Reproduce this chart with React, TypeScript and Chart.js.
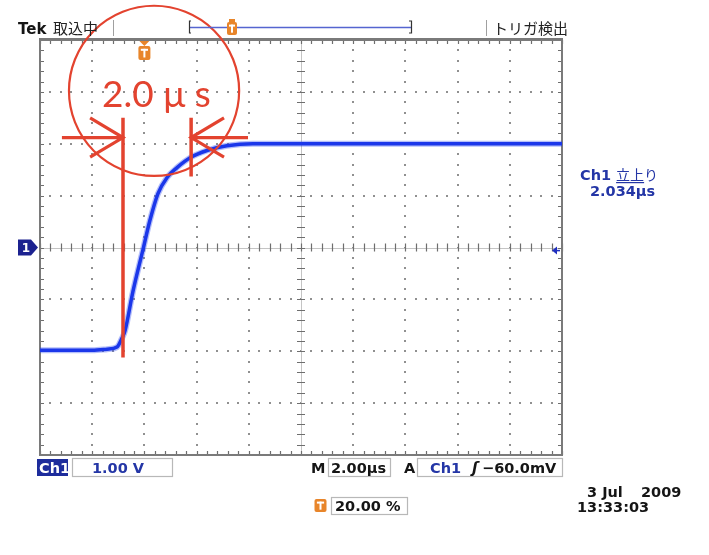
import React, { useEffect, useRef } from "react";
import { Chart, registerables } from "chart.js";

Chart.register(...registerables);

// ---- waveform (Ch1): time in µs (trigger = 0), volts ----
const timeUs = [-4.0, -2.0, -1.43, -1.05, -0.86, -0.74, -0.44, -0.05, 0.21, 0.52, 0.87, 1.25, 1.75, 2.4, 3.16, 4.16, 8.0, 12.0, 16.0];
const voltsV = [-1.98, -1.98, -1.96, -1.92, -1.75, -1.6, -0.85, -0.03, 0.52, 1.04, 1.35, 1.54, 1.73, 1.87, 1.96, 2.0, 2.0, 2.0, 2.0];

// ---- graticule divisions (2 µs/div, 1 V/div) ----
const timeDivisionsUs = [-4, -2, 0, 2, 4, 6, 8, 10, 12, 14, 16];
const voltDivisionsV = [-4, -3, -2, -1, 0, 1, 2, 3, 4];
const centerTimeUs = 6;
const triggerTimeUs = 0;
const triggerLevelV = -0.06;
const groundLevelV = 0;

// ---- red hand-drawn annotation (in µs / V) ----
const markerTimesUs = [-0.82, 1.79];
const markerTopV = 2.5;
const markerBottomV = [-2.12, 1.37];
const arrowLevelV = 2.12;
const arrowOuterUs = [-3.16, 3.97];
const arrowHeadUs = 1.26;
const arrowHeadV = 0.38;
const circleCenter = [0.37, 3.02];
const circleRadiusUs = 3.26;
const annotationText = "2.0 μ s";
const annotationTextPos = [0.46, 2.7];

// ---- screen readouts ----
const headerLeft = ["Tek", "取込中"];
const headerRight = "トリガ検出";
const measureLabel = ["Ch1", "立上り"];
const measureValue = "2.034µs";
const ch1Scale = "1.00 V";
const timebase = "2.00µs";
const triggerReadout = ["Ch1", "ʃ", "−60.0mV"];
const triggerPosition = "20.00 %";
const dateText = ["3 Jul", "2009"];
const timeText = "13:33:03";

const RED = "#e3432f";
const TRACE = "#1430e6";
const UIBLUE = "#2436a6";
const ORANGE = "#e8852a";

function drawTIcon(ctx: CanvasRenderingContext2D, cx: number, y: number, w: number, h: number) {
  ctx.fillStyle = ORANGE;
  const x = cx - w / 2;
  const r = 2;
  ctx.beginPath();
  ctx.moveTo(x + r, y);
  ctx.lineTo(x + w - r, y);
  ctx.quadraticCurveTo(x + w, y, x + w, y + r);
  ctx.lineTo(x + w, y + h - r);
  ctx.quadraticCurveTo(x + w, y + h, x + w - r, y + h);
  ctx.lineTo(x + r, y + h);
  ctx.quadraticCurveTo(x, y + h, x, y + h - r);
  ctx.lineTo(x, y + r);
  ctx.quadraticCurveTo(x, y, x + r, y);
  ctx.fill();
  ctx.fillStyle = "#fff";
  ctx.fillRect(cx - w * 0.3, y + h * 0.2, w * 0.6, 2);
  ctx.fillRect(cx - 1, y + h * 0.2, 2, h * 0.62);
}

const scopePlugin = {
  id: "scope",
  beforeDraw(chart: any) {
    const ctx: CanvasRenderingContext2D = chart.ctx;
    ctx.save();
    ctx.fillStyle = "#ffffff";
    ctx.fillRect(0, 0, chart.width, chart.height);
    ctx.restore();
  },
  beforeDatasetsDraw(chart: any) {
    const ctx: CanvasRenderingContext2D = chart.ctx;
    const xs = chart.scales.x;
    const ys = chart.scales.y;
    const { left, right, top, bottom } = chart.chartArea;
    const X = (v: number) => xs.getPixelForValue(v);
    const Y = (v: number) => ys.getPixelForValue(v);
    ctx.save();

    const subX: number[] = [];
    for (let i = 0; i < timeDivisionsUs.length - 1; i++) {
      const a = timeDivisionsUs[i], b = timeDivisionsUs[i + 1];
      for (let k = 0; k < 5; k++) subX.push(a + ((b - a) * k) / 5);
    }
    subX.push(timeDivisionsUs[timeDivisionsUs.length - 1]);
    const subY: number[] = [];
    for (let i = 0; i < voltDivisionsV.length - 1; i++) {
      const a = voltDivisionsV[i], b = voltDivisionsV[i + 1];
      for (let k = 0; k < 5; k++) subY.push(a + ((b - a) * k) / 5);
    }
    subY.push(voltDivisionsV[voltDivisionsV.length - 1]);

    // dotted division lines
    ctx.fillStyle = "#909090";
    for (const t of timeDivisionsUs.slice(1, -1)) {
      if (t === centerTimeUs) continue;
      for (const v of subY) ctx.fillRect(Math.round(X(t)) - 1, Math.round(Y(v)) - 1, 2, 2);
    }
    for (const v of voltDivisionsV.slice(1, -1)) {
      if (v === 0) continue;
      for (const t of subX) ctx.fillRect(Math.round(X(t)) - 1, Math.round(Y(v)) - 1, 2, 2);
    }

    // center cross with ticks
    const cx = X(centerTimeUs);
    const cy = Y(0);
    ctx.strokeStyle = "#c4c4c4";
    ctx.lineWidth = 1;
    ctx.beginPath();
    ctx.moveTo(left, Math.round(cy) + 0.5);
    ctx.lineTo(right, Math.round(cy) + 0.5);
    ctx.moveTo(Math.round(cx) + 0.5, top);
    ctx.lineTo(Math.round(cx) + 0.5, bottom);
    ctx.stroke();
    ctx.strokeStyle = "#6e6e6e";
    ctx.lineWidth = 1.2;
    ctx.beginPath();
    for (const t of subX) {
      const px = Math.round(X(t)) + 0.5;
      ctx.moveTo(px, cy - 4);
      ctx.lineTo(px, cy + 4);
    }
    for (const v of subY) {
      const py = Math.round(Y(v)) + 0.5;
      ctx.moveTo(cx - 4, py);
      ctx.lineTo(cx + 4, py);
    }
    for (const t of subX) {
      const px = Math.round(X(t)) + 0.5;
      ctx.moveTo(px, top);
      ctx.lineTo(px, top + 4);
      ctx.moveTo(px, bottom);
      ctx.lineTo(px, bottom - 4);
    }
    for (const v of subY) {
      const py = Math.round(Y(v)) + 0.5;
      ctx.moveTo(left, py);
      ctx.lineTo(left + 4, py);
      ctx.moveTo(right, py);
      ctx.lineTo(right - 4, py);
    }
    ctx.stroke();

    // frame
    ctx.strokeStyle = "#7a7a7a";
    ctx.lineWidth = 2;
    ctx.strokeRect(left, top, right - left, bottom - top);
    ctx.lineWidth = 3;
    ctx.beginPath();
    ctx.moveTo(left - 1, top - 0.5);
    ctx.lineTo(right + 1, top - 0.5);
    ctx.stroke();

    // trigger position marker on the graticule
    const tx = X(triggerTimeUs);
    ctx.fillStyle = ORANGE;
    ctx.beginPath();
    ctx.moveTo(tx - 5, top + 1);
    ctx.lineTo(tx + 5, top + 1);
    ctx.lineTo(tx, top + 6);
    ctx.closePath();
    ctx.fill();
    drawTIcon(ctx, tx, top + 6, 12, 14);

    // ground marker "1"
    const gy = Y(groundLevelV);
    ctx.fillStyle = "#1c2290";
    ctx.beginPath();
    ctx.moveTo(18, gy - 8);
    ctx.lineTo(31, gy - 8);
    ctx.lineTo(38, gy);
    ctx.lineTo(31, gy + 8);
    ctx.lineTo(18, gy + 8);
    ctx.closePath();
    ctx.fill();
    ctx.fillStyle = "#fff";
    ctx.font = "bold 12px 'DejaVu Sans'";
    ctx.textBaseline = "middle";
    ctx.textAlign = "center";
    ctx.fillText("1", 26, gy + 1);

    // trigger level arrow on the right
    const ly = Y(triggerLevelV);
    ctx.fillStyle = "#2030c0";
    ctx.strokeStyle = "#2030c0";
    ctx.lineWidth = 1.5;
    ctx.beginPath();
    ctx.moveTo(right - 10, ly);
    ctx.lineTo(right - 5, ly - 4);
    ctx.lineTo(right - 5, ly + 4);
    ctx.closePath();
    ctx.fill();
    ctx.beginPath();
    ctx.moveTo(right - 6, ly);
    ctx.lineTo(right - 2, ly);
    ctx.stroke();

    ctx.restore();
  },
  afterDatasetsDraw(chart: any) {
    const ctx: CanvasRenderingContext2D = chart.ctx;
    const xs = chart.scales.x;
    const ys = chart.scales.y;
    const X = (v: number) => xs.getPixelForValue(v);
    const Y = (v: number) => ys.getPixelForValue(v);
    ctx.save();

    ctx.strokeStyle = RED;
    ctx.lineCap = "butt";
    ctx.lineWidth = 2.2;
    const ccx = X(circleCenter[0]);
    const ccy = Y(circleCenter[1]);
    const r = X(circleCenter[0] + circleRadiusUs) - ccx;
    ctx.beginPath();
    ctx.arc(ccx, ccy, r, 0, Math.PI * 2);
    ctx.stroke();

    ctx.lineWidth = 3.5;
    ctx.beginPath();
    for (let i = 0; i < 2; i++) {
      const mx = X(markerTimesUs[i]);
      ctx.moveTo(mx, Y(markerTopV));
      ctx.lineTo(mx, Y(markerBottomV[i]));
    }
    ctx.stroke();
    ctx.lineWidth = 3.2;
    ctx.beginPath();
    for (let i = 0; i < 2; i++) {
      const tip = markerTimesUs[i];
      const dir = i === 0 ? -1 : 1;
      ctx.moveTo(X(arrowOuterUs[i]), Y(arrowLevelV));
      ctx.lineTo(X(tip), Y(arrowLevelV));
      ctx.moveTo(X(tip + dir * arrowHeadUs), Y(arrowLevelV + arrowHeadV));
      ctx.lineTo(X(tip), Y(arrowLevelV));
      ctx.lineTo(X(tip + dir * arrowHeadUs), Y(arrowLevelV - arrowHeadV));
    }
    ctx.stroke();

    ctx.fillStyle = RED;
    ctx.font = "37px Lato, 'Liberation Sans', sans-serif";
    ctx.textAlign = "center";
    ctx.textBaseline = "alphabetic";
    ctx.fillText(annotationText, X(annotationTextPos[0]), Y(annotationTextPos[1]));

    ctx.restore();
  },
  afterDraw(chart: any) {
    const ctx: CanvasRenderingContext2D = chart.ctx;
    ctx.save();
    ctx.textBaseline = "alphabetic";
    ctx.textAlign = "left";
    const T = (s: string, x: number, y: number, font: string, color: string) => {
      ctx.font = font;
      ctx.fillStyle = color;
      ctx.fillText(s, x, y);
    };
    const B = "bold 14.5px 'DejaVu Sans'";
    const CJK = "15px 'Noto Sans CJK JP'";

    T(headerLeft[0], 18, 34, "bold 15px 'DejaVu Sans'", "#151515");
    T(headerLeft[1], 53, 34, CJK, "#222");
    ctx.strokeStyle = "#a0a0a0";
    ctx.lineWidth = 1;
    ctx.beginPath();
    ctx.moveTo(113.5, 20);
    ctx.lineTo(113.5, 36);
    ctx.moveTo(486.5, 20);
    ctx.lineTo(486.5, 36);
    ctx.stroke();
    ctx.strokeStyle = "#5565d0";
    ctx.lineWidth = 1.5;
    ctx.beginPath();
    ctx.moveTo(190, 27.5);
    ctx.lineTo(411, 27.5);
    ctx.stroke();
    ctx.strokeStyle = "#333";
    ctx.lineWidth = 1.2;
    ctx.beginPath();
    ctx.moveTo(191, 21);
    ctx.lineTo(189.5, 21);
    ctx.lineTo(189.5, 33);
    ctx.lineTo(191, 33);
    ctx.moveTo(409, 21);
    ctx.lineTo(411.5, 21);
    ctx.lineTo(411.5, 33);
    ctx.lineTo(409, 33);
    ctx.stroke();
    ctx.fillStyle = ORANGE;
    ctx.fillRect(229, 19, 6, 3);
    drawTIcon(ctx, 232, 22, 10, 13);
    T(headerRight, 493, 34, CJK, "#222");

    T(measureLabel[0], 580, 180, B, UIBLUE);
    ctx.font = B;
    const w0 = ctx.measureText(measureLabel[0] + " ").width;
    T(measureLabel[1], 580 + w0, 180, "14px 'Noto Sans CJK JP'", UIBLUE);
    ctx.font = "14px 'Noto Sans CJK JP'";
    const wu = ctx.measureText("立上").width;
    ctx.fillStyle = UIBLUE;
    ctx.fillRect(580 + w0, 182, wu, 1.2);
    T(measureValue, 590, 196, B, UIBLUE);

    ctx.fillStyle = "#1d2c9c";
    ctx.fillRect(37, 459, 31, 17);
    T("Ch1", 39, 473, B, "#ffffff");
    ctx.strokeStyle = "#b8b8b8";
    ctx.lineWidth = 1.2;
    ctx.strokeRect(72.5, 458.5, 100, 18);
    T(ch1Scale, 92, 473, B, UIBLUE);

    T("M", 311, 473, B, "#151515");
    ctx.strokeRect(328.5, 458.5, 62, 18);
    T(timebase, 331, 473, B, "#151515");

    T("A", 404, 473, B, "#151515");
    ctx.strokeRect(417.5, 458.5, 145, 18);
    T(triggerReadout[0], 430, 473, B, UIBLUE);
    T(triggerReadout[1], 472, 473, "bold italic 15px 'DejaVu Sans'", "#151515");
    T(triggerReadout[2], 482, 473, B, "#151515");

    drawTIcon(ctx, 320.5, 499, 12, 13);
    ctx.strokeStyle = "#b8b8b8";
    ctx.strokeRect(331.5, 497.5, 76, 17);
    T(triggerPosition, 335, 511, B, "#151515");

    T(dateText[0], 587, 497, B, "#151515");
    T(dateText[1], 641, 497, B, "#151515");
    T(timeText, 577, 512, B, "#151515");

    ctx.restore();
  },
};

export default function App() {
  const ref = useRef<HTMLCanvasElement | null>(null);
  useEffect(() => {
    document.body.style.margin = "0";
    if (!ref.current) return;
    const pts = timeUs.map((t, i) => ({ x: t, y: voltsV[i] }));
    const chart = new Chart(ref.current, {
      type: "line",
      data: {
        datasets: [
          {
            data: pts,
            borderColor: "rgba(40,70,240,0.35)",
            borderWidth: 6,
            pointRadius: 0,
            cubicInterpolationMode: "monotone",
            fill: false,
          },
          {
            data: pts,
            borderColor: TRACE,
            borderWidth: 3.5,
            pointRadius: 0,
            cubicInterpolationMode: "monotone",
            fill: false,
          },
        ],
      },
      options: {
        animation: false,
        responsive: false,
        maintainAspectRatio: false,
        devicePixelRatio: 1,
        events: [],
        layout: { padding: { left: 40, right: 147, top: 40, bottom: 100 } },
        scales: {
          x: { type: "linear", min: -4, max: 16, display: false },
          y: { type: "linear", min: -4, max: 4, display: false },
        },
        plugins: { legend: { display: false }, tooltip: { enabled: false } },
      },
      plugins: [scopePlugin],
    } as any);
    return () => chart.destroy();
  }, []);
  return (
    <div style={{ width: 709, height: 555, position: "relative" }}>
      <canvas ref={ref} width={709} height={555} style={{ display: "block", width: 709, height: 555 }} />
    </div>
  );
}
